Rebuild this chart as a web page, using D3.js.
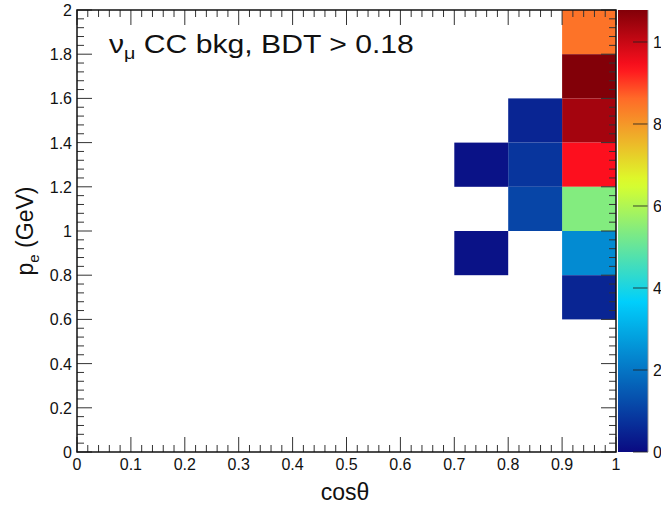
<!DOCTYPE html>
<html>
<head>
<meta charset="utf-8">
<script src="https://cdn.jsdelivr.net/npm/d3@7"></script>
<style>
  html, body { margin: 0; padding: 0; background: #fff; overflow: hidden; }
  svg { display: block; font-family: "Liberation Sans", Arial, Helvetica, sans-serif; }
</style>
</head>
<body>
<svg id="chart" width="661" height="508"></svg>
<script>
// Bin lower edges (cosθ, p_e) and bin contents of the 2D histogram
const cosLow = [0.9, 0.9, 0.9, 0.9, 0.9, 0.9, 0.9, 0.8, 0.8, 0.8, 0.7, 0.7];
const pLow   = [1.8, 1.6, 1.4, 1.2, 1.0, 0.8, 0.6, 1.4, 1.2, 1.0, 1.2, 0.8];
const counts = [8.5, 10.78, 10.4, 9.4, 5.4, 2.4, 0.5, 0.5, 0.8, 1.1, 0.15, 0.15];
const cosBinWidth = 0.1;
const pBinWidth = 0.2;

// Axis tick labels
const xTicks = [0, 0.1, 0.2, 0.3, 0.4, 0.5, 0.6, 0.7, 0.8, 0.9, 1];
const yTicks = [0, 0.2, 0.4, 0.6, 0.8, 1, 1.2, 1.4, 1.6, 1.8, 2];
const zTicks = [0, 2, 4, 6, 8, 10];

// Colour palette stops (fraction of z range) and colours
const paletteStops  = [0, 0.34, 0.61, 0.80, 0.87, 1];
const paletteColors = ["#0a0a82", "#00cffc", "#dcff2a", "#ff6a28", "#ff0f1e", "#820008"];

const svg = d3.select("#chart");
const frame = { left: 77, right: 616, top: 10, bottom: 452 };
const bar = { left: 618, right: 648 };

const x = d3.scaleLinear().domain([0, 1]).range([frame.left, frame.right]);
const y = d3.scaleLinear().domain([0, 2]).range([frame.bottom, frame.top]);
const zMax = d3.max(counts);
const z = d3.scaleLinear().domain([0, zMax]).range([frame.bottom, frame.top]);
const color = d3.scaleLinear()
  .domain(paletteStops.map(s => s * zMax))
  .range(paletteColors)
  .interpolate(d3.interpolateRgb)
  .clamp(true);

// Histogram cells
const cells = counts.map((c, i) => ({ x0: cosLow[i], y0: pLow[i], v: c }));
svg.append("g").selectAll("rect").data(cells).join("rect")
  .attr("x", d => x(d.x0))
  .attr("y", d => y(d.y0 + pBinWidth))
  .attr("width", d => x(d.x0 + cosBinWidth) - x(d.x0))
  .attr("height", d => y(d.y0) - y(d.y0 + pBinWidth))
  .attr("fill", d => color(d.v));

// Ticks: major + minor on all four sides of the frame
const tickColor = "#333";
function minorVals(major, sub) {
  const out = [];
  for (let i = 0; i < major.length - 1; i++) {
    const a = major[i], b = major[i + 1];
    for (let k = 1; k < sub; k++) out.push(a + (b - a) * k / sub);
  }
  return out;
}
const xMinor = minorVals(xTicks, 5);
const yMinor = minorVals(yTicks, 5);
const majLen = 15, minLen = 7;

const tg = svg.append("g").attr("stroke", tickColor).attr("stroke-width", 1);
// bottom & top
[[xTicks, majLen], [xMinor, minLen]].forEach(([vals, len]) => {
  tg.selectAll(null).data(vals).join("line")
    .attr("x1", d => x(d)).attr("x2", d => x(d))
    .attr("y1", frame.bottom).attr("y2", frame.bottom - len);
  tg.selectAll(null).data(vals).join("line")
    .attr("x1", d => x(d)).attr("x2", d => x(d))
    .attr("y1", frame.top).attr("y2", frame.top + len);
});
// left & right
[[yTicks, majLen], [yMinor, minLen]].forEach(([vals, len]) => {
  tg.selectAll(null).data(vals).join("line")
    .attr("y1", d => y(d)).attr("y2", d => y(d))
    .attr("x1", frame.left).attr("x2", frame.left + len);
  tg.selectAll(null).data(vals).join("line")
    .attr("y1", d => y(d)).attr("y2", d => y(d))
    .attr("x1", frame.right).attr("x2", frame.right - len);
});

// Frame
svg.append("rect")
  .attr("x", frame.left).attr("y", frame.top)
  .attr("width", frame.right - frame.left).attr("height", frame.bottom - frame.top)
  .attr("fill", "none").attr("stroke", "#111").attr("stroke-width", 1.5);

// Tick labels
const fmt = d => d3.format("~g")(d);
svg.append("g").selectAll("text").data(xTicks).join("text")
  .attr("x", d => x(d)).attr("y", frame.bottom + 18)
  .attr("text-anchor", "middle").attr("font-size", 16).attr("fill", "#111")
  .text(fmt);
svg.append("g").selectAll("text").data(yTicks).join("text")
  .attr("x", frame.left - 5).attr("y", d => y(d) + 6)
  .attr("text-anchor", "end").attr("font-size", 16).attr("fill", "#111")
  .text(fmt);

// Axis titles
svg.append("text")
  .attr("x", 345).attr("y", 500)
  .attr("text-anchor", "middle").attr("font-size", 23).attr("fill", "#111")
  .text("cosθ");
const yTitle = svg.append("text")
  .attr("transform", "translate(33,231) rotate(-90)")
  .attr("text-anchor", "middle").attr("font-size", 23).attr("fill", "#111");
yTitle.append("tspan").text("p");
yTitle.append("tspan").attr("font-size", 15).attr("dy", 6).text("e");
yTitle.append("tspan").attr("dy", -6).text(" (GeV)");

// Plot label
const label = svg.append("text")
  .attr("transform", "translate(109,53) scale(1.16,1)")
  .attr("font-size", 26).attr("fill", "#111");
label.append("tspan").text("ν");
label.append("tspan").attr("font-size", 17).attr("dy", 6).text("μ");
label.append("tspan").attr("dy", -6).text(" CC bkg, BDT > 0.18");

// Colour bar
const defs = svg.append("defs");
const grad = defs.append("linearGradient").attr("id", "zgrad")
  .attr("x1", 0).attr("x2", 0).attr("y1", 1).attr("y2", 0);
d3.range(0, 1.0001, 0.02).forEach(t => {
  grad.append("stop").attr("offset", t).attr("stop-color", color(t * zMax));
});
svg.append("rect")
  .attr("x", bar.left).attr("y", z(zMax))
  .attr("width", bar.right - bar.left).attr("height", z(0) - z(zMax))
  .attr("fill", "url(#zgrad)");
svg.append("g").selectAll("line").data(zTicks).join("line")
  .attr("x1", bar.right - 15).attr("x2", bar.right)
  .attr("y1", d => z(d)).attr("y2", d => z(d))
  .attr("stroke", "#222").attr("stroke-width", 1.2).attr("stroke-opacity", 0.7);
svg.append("line")
  .attr("x1", bar.right).attr("x2", bar.right)
  .attr("y1", z(zMax)).attr("y2", z(0))
  .attr("stroke", "#999").attr("stroke-width", 1);
svg.append("g").selectAll("text").data(zTicks).join("text")
  .attr("x", bar.right + 5).attr("y", d => z(d) + 6)
  .attr("font-size", 16).attr("fill", "#111")
  .text(d => d);
</script>
</body>
</html>
